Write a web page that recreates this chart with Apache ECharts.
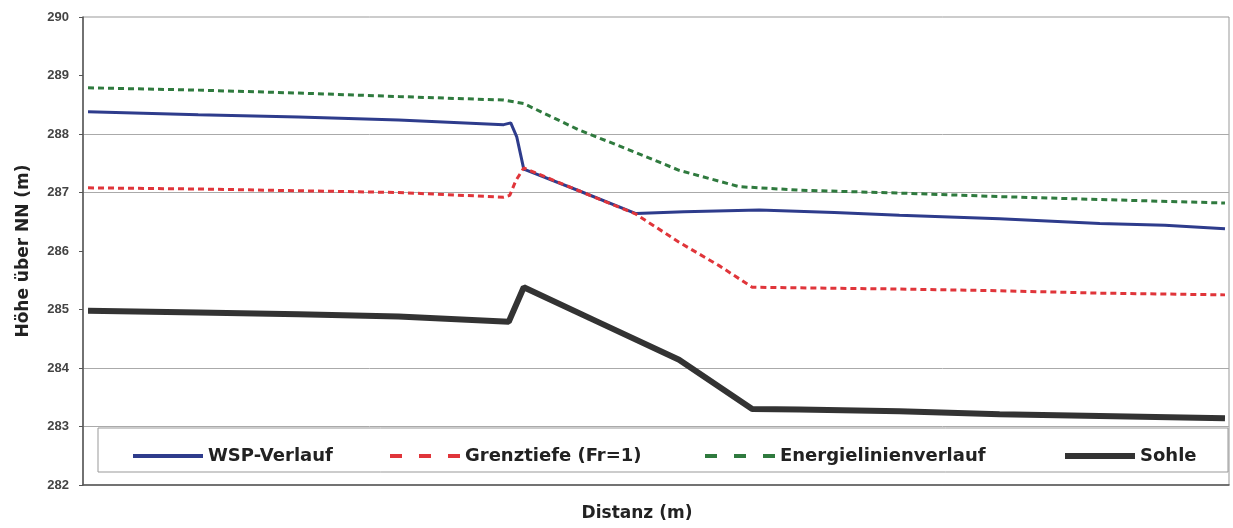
<!DOCTYPE html>
<html>
<head>
<meta charset="utf-8">
<script src="https://cdn.jsdelivr.net/npm/echarts@6/dist/echarts.min.js"></script>
<style>
  html, body { margin: 0; padding: 0; background: #fff; }
  #chart { width: 1233px; height: 528px; }
</style>
</head>
<body>
<div id="chart"></div>
<script>
// Distanz (m) und Höhe über NN (m)
var wspDist   = [0.5, 11.5, 21.5, 31.5, 42.0, 42.7, 43.3, 44.0, 49.5, 55.2, 60.0, 67.5, 75.0, 81.5, 91.5, 101.5, 108.0, 114.0];
var wspHeight = [288.38, 288.33, 288.29, 288.24, 288.16, 288.19, 287.95, 287.40, 287.03, 286.64, 286.67, 286.70, 286.66, 286.61, 286.55, 286.47, 286.44, 286.38];

var grenzDist   = [0.5, 11.5, 21.5, 31.5, 42.0, 42.6, 43.2, 44.0, 49.5, 55.2, 59.5, 63.5, 66.8, 71.5, 81.5, 91.5, 101.5, 114.0];
var grenzHeight = [287.08, 287.06, 287.03, 287.00, 286.92, 286.95, 287.20, 287.42, 287.03, 286.63, 286.15, 285.75, 285.38, 285.37, 285.35, 285.32, 285.28, 285.25];

var energieDist   = [0.5, 11.5, 21.5, 31.5, 42.0, 44.0, 49.5, 54.5, 59.5, 65.5, 71.5, 81.5, 91.5, 101.5, 114.0];
var energieHeight = [288.79, 288.75, 288.70, 288.64, 288.58, 288.52, 288.07, 287.73, 287.38, 287.10, 287.04, 286.99, 286.93, 286.88, 286.82];

var sohleDist   = [0.5, 11.5, 21.5, 31.5, 42.5, 44.0, 51.5, 59.5, 66.8, 71.5, 81.5, 91.5, 101.5, 114.0];
var sohleHeight = [284.98, 284.95, 284.92, 284.88, 284.79, 285.38, 284.78, 284.14, 283.30, 283.29, 283.26, 283.21, 283.18, 283.14];

var seriesNames = ['WSP-Verlauf', 'Grenztiefe (Fr=1)', 'Energielinienverlauf', 'Sohle'];

function pairs(xs, ys) {
    var out = [];
    for (var i = 0; i < xs.length; i++) out.push([xs[i], ys[i]]);
    return out;
}

var chart = echarts.init(document.getElementById('chart'));

// nur 283, 284, 287, 288 haben sichtbare Gitterlinien
var gridColors = ['rgba(0,0,0,0)', '#aaa', '#aaa', 'rgba(0,0,0,0)', 'rgba(0,0,0,0)', '#aaa', '#aaa', 'rgba(0,0,0,0)', 'rgba(0,0,0,0)'];

var dashIcon = 'path://M0,0h12v4h-12z M29,0h12v4h-12z M58,0h12v4h-12z';
var legendText = { fontFamily: 'DejaVu Sans', fontWeight: 'bold', fontSize: 18, color: '#222' };
function legendAt(name, left, icon, h) {
    return {
        data: [{ name: name, icon: icon }], left: left, top: 442,
        itemWidth: 70, itemHeight: h, itemGap: 0,
        textStyle: legendText
    };
}

var option = {
    animation: false,
    backgroundColor: '#fff',
    grid: {
        left: 83, right: 4, top: 17, bottom: 43,
        show: true, borderColor: '#999', borderWidth: 1
    },
    graphic: [{
        type: 'rect', z: 1,
        shape: { x: 98, y: 428, width: 1130, height: 44 },
        style: { fill: '#fff', stroke: '#999', lineWidth: 1 }
    }],
    legend: [
        legendAt(seriesNames[0], 128, 'rect', 4),
        legendAt(seriesNames[1], 385, dashIcon, 4),
        legendAt(seriesNames[2], 700, dashIcon, 4),
        legendAt(seriesNames[3], 1060, 'rect', 6)
    ],
    xAxis: {
        type: 'value', min: 0, max: 114.4,
        name: 'Distanz (m)', nameLocation: 'middle', nameGap: 20,
        nameTextStyle: { fontFamily: 'DejaVu Sans', fontWeight: 'bold', fontSize: 17, color: '#222', padding: [0, 38, 0, 0] },
        axisLine: { lineStyle: { color: '#555', width: 1.5 } },
        axisTick: { show: false },
        axisLabel: { show: false },
        splitLine: { show: false }
    },
    yAxis: {
        type: 'value', min: 282, max: 290, interval: 1,
        name: 'Höhe über NN (m)', nameLocation: 'middle', nameGap: 51, nameRotate: 90,
        nameTextStyle: { fontFamily: 'DejaVu Sans', fontWeight: 'bold', fontSize: 17, color: '#222' },
        axisLine: { show: true, lineStyle: { color: '#555', width: 1.5 } },
        axisTick: { show: true, length: 4, lineStyle: { color: '#555' } },
        axisLabel: { margin: 14, fontFamily: 'Liberation Sans', fontWeight: 'bold', fontSize: 13, color: '#444' },
        splitLine: { show: true, lineStyle: { color: gridColors, width: 1 } }
    },
    series: [
        {
            name: seriesNames[0], type: 'line', showSymbol: false, symbol: 'none',
            lineStyle: { color: '#2E3C8C', width: 3 }, itemStyle: { color: '#2E3C8C' },
            data: pairs(wspDist, wspHeight)
        },
        {
            name: seriesNames[1], type: 'line', showSymbol: false, symbol: 'none',
            lineStyle: { color: '#E0353A', width: 3, type: [6, 4] }, itemStyle: { color: '#E0353A' },
            data: pairs(grenzDist, grenzHeight)
        },
        {
            name: seriesNames[2], type: 'line', showSymbol: false, symbol: 'none',
            lineStyle: { color: '#2F7A3E', width: 3, type: [6, 4] }, itemStyle: { color: '#2F7A3E' },
            data: pairs(energieDist, energieHeight)
        },
        {
            name: seriesNames[3], type: 'line', showSymbol: false, symbol: 'none',
            lineStyle: { color: '#333', width: 6 }, itemStyle: { color: '#333' },
            data: pairs(sohleDist, sohleHeight)
        }
    ]
};

chart.setOption(option);
</script>
</body>
</html>
